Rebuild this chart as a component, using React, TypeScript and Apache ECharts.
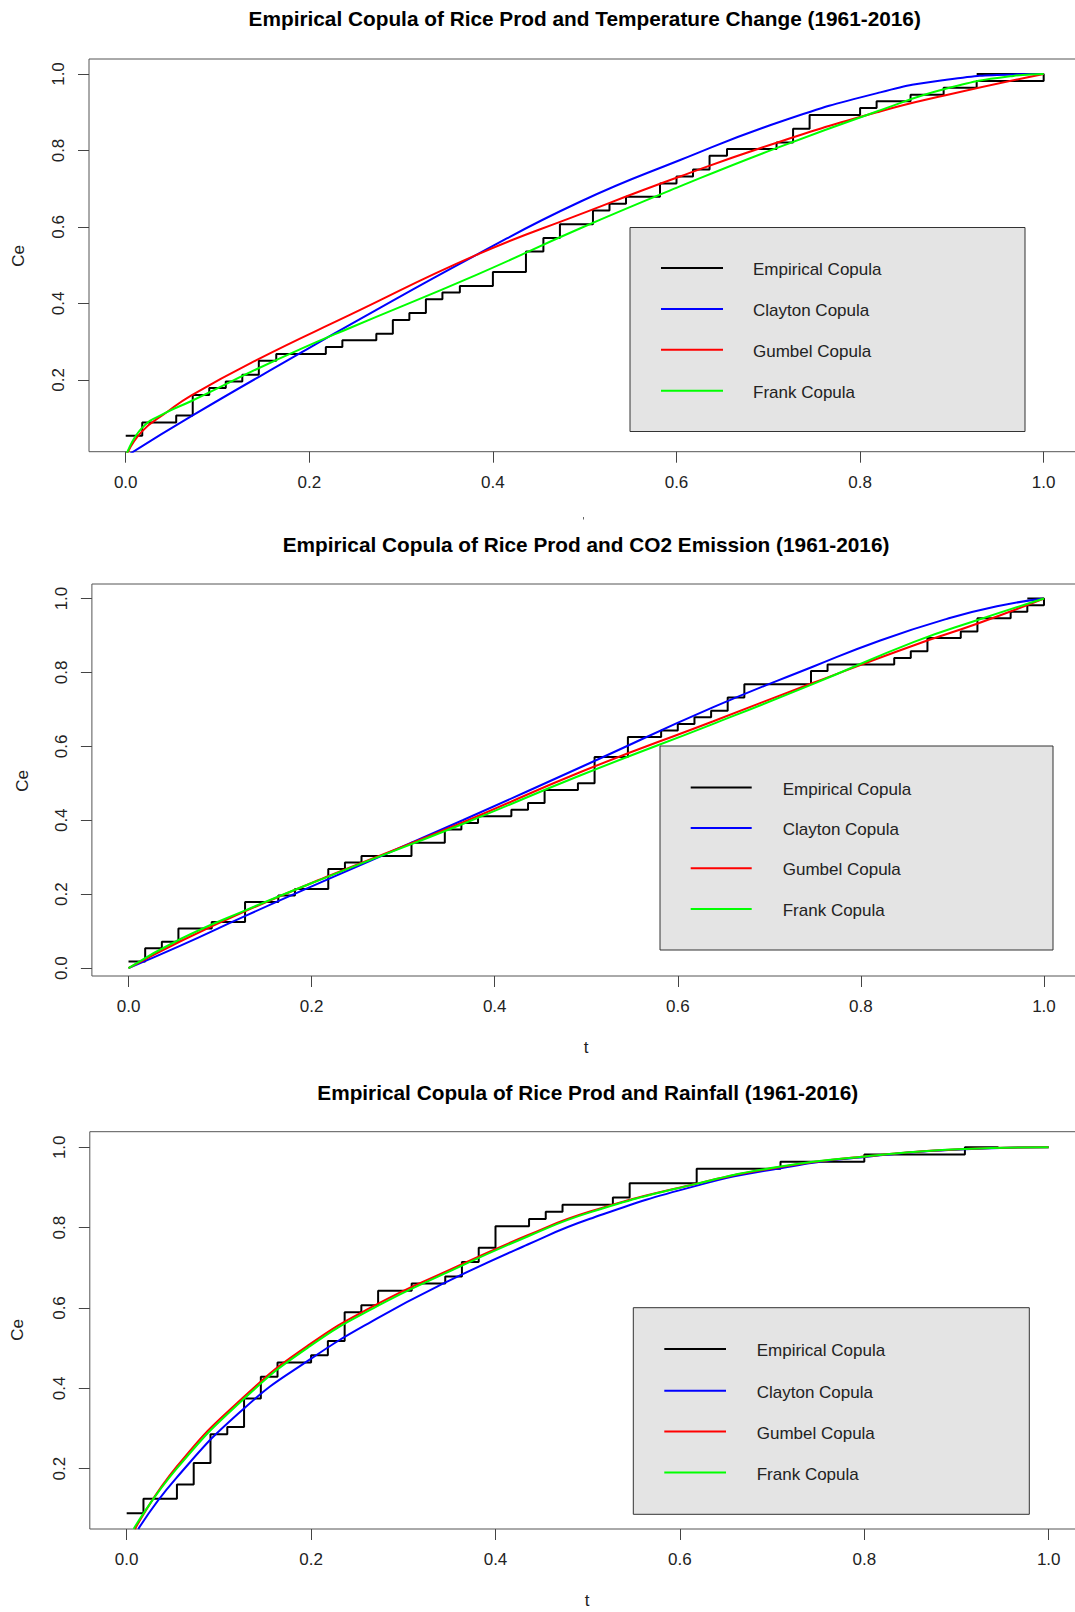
import React, { useEffect, useRef } from "react";
import * as echarts from "echarts";

// ---------- DATA ----------
const TITLES = [
  "Empirical Copula of Rice Prod and Temperature Change (1961-2016)",
  "Empirical Copula of Rice Prod and CO2 Emission (1961-2016)",
  "Empirical Copula of Rice Prod and Rainfall (1961-2016)",
];
const LEGEND_NAMES = ["Empirical Copula", "Clayton Copula", "Gumbel Copula", "Frank Copula"];
const SERIES_COLORS = ["#000000", "#0000FF", "#FF0000", "#00FF00"];
const X_TICKS = [0, 0.2, 0.4, 0.6, 0.8, 1.0];
const Y_TICKS_1 = [0.2, 0.4, 0.6, 0.8, 1.0];
const Y_TICKS_2 = [0, 0.2, 0.4, 0.6, 0.8, 1.0];
const Y_TICKS_3 = [0.2, 0.4, 0.6, 0.8, 1.0];

// Panel 1: Temperature change — empirical step function (t, Ce)
const TEMP_STEP_T = [0, 0.018, 0.055, 0.073, 0.091, 0.109, 0.127, 0.145, 0.164, 0.218, 0.236, 0.273, 0.291, 0.309, 0.327, 0.345, 0.364, 0.4, 0.436, 0.455, 0.473, 0.509, 0.527, 0.545, 0.582, 0.6, 0.618, 0.636, 0.655, 0.709, 0.727, 0.745, 0.8, 0.818, 0.855, 0.891, 0.927, 1.0, 0.927];
const TEMP_STEP_C = [0.054, 0.089, 0.107, 0.161, 0.179, 0.196, 0.214, 0.25, 0.268, 0.286, 0.304, 0.321, 0.357, 0.375, 0.411, 0.429, 0.446, 0.482, 0.536, 0.571, 0.607, 0.643, 0.661, 0.679, 0.714, 0.732, 0.75, 0.786, 0.804, 0.821, 0.857, 0.893, 0.911, 0.929, 0.946, 0.964, 0.982, 1.0, 1.0];
const TEMP_CLAYTON = [[0, 0], [0.072, 0.106], [0.19, 0.27], [0.244, 0.344], [0.382, 0.527], [0.495, 0.666], [0.604, 0.775], [0.713, 0.875], [0.822, 0.952], [0.894, 0.985], [0.967, 0.999], [1, 1]];
const TEMP_GUMBEL = [[0, 0], [0.0175, 0.065], [0.0443, 0.115], [0.0716, 0.16], [0.1424, 0.252], [0.2441, 0.37], [0.3821, 0.527], [0.4947, 0.633], [0.6037, 0.732], [0.7125, 0.823], [0.8216, 0.902], [0.8943, 0.945], [1, 1]];
const TEMP_FRANK = [[0, 0], [0.0175, 0.074], [0.0443, 0.115], [0.0716, 0.145], [0.1424, 0.228], [0.1896, 0.28], [0.2441, 0.336], [0.3821, 0.475], [0.4947, 0.596], [0.6037, 0.706], [0.7052, 0.803], [0.8216, 0.905], [0.8943, 0.962], [0.9669, 0.995], [1, 1]];

// Panel 2: CO2 emission
const CO2_STEP_T = [0, 0.0182, 0.0364, 0.0545, 0.0909, 0.1273, 0.1636, 0.1818, 0.2182, 0.2364, 0.2545, 0.3091, 0.3455, 0.3636, 0.3818, 0.4182, 0.4364, 0.4545, 0.4909, 0.5091, 0.5455, 0.5818, 0.6, 0.6182, 0.6364, 0.6545, 0.6727, 0.7455, 0.7636, 0.8364, 0.8545, 0.8727, 0.9091, 0.9273, 0.9636, 0.9818, 1.0, 0.9818];
const CO2_STEP_C = [0.0179, 0.0536, 0.0714, 0.1071, 0.125, 0.1786, 0.1964, 0.2143, 0.2679, 0.2857, 0.3036, 0.3393, 0.375, 0.3929, 0.4107, 0.4286, 0.4464, 0.4821, 0.5, 0.5714, 0.625, 0.6429, 0.6607, 0.6786, 0.6964, 0.7321, 0.7679, 0.8036, 0.8214, 0.8393, 0.8571, 0.8929, 0.9107, 0.9464, 0.9643, 0.9821, 1.0, 1.0];
const CO2_CLAYTON = [[0, 0], [0.0562, 0.06], [0.1283, 0.142], [0.2194, 0.242], [0.365, 0.4], [0.5041, 0.555], [0.6388, 0.706], [0.7481, 0.816], [0.8211, 0.8865], [0.894, 0.945], [0.9486, 0.979], [1, 1]];
const CO2_GUMBEL = [[0, 0], [0.0562, 0.072], [0.1283, 0.155], [0.2194, 0.25], [0.365, 0.394], [0.4932, 0.53], [0.6388, 0.668], [0.7481, 0.772], [0.8574, 0.873], [0.9284, 0.933], [1, 1]];
const CO2_FRANK = [[0, 0], [0.0562, 0.078], [0.1283, 0.157], [0.2194, 0.249], [0.365, 0.39], [0.4932, 0.521], [0.6388, 0.661], [0.7481, 0.769], [0.8574, 0.882], [0.9284, 0.9425], [1, 1]];

// Panel 3: Rainfall
const RAIN_STEP_T = [0, 0.0182, 0.0545, 0.0727, 0.0909, 0.1091, 0.1273, 0.1455, 0.1636, 0.2, 0.2182, 0.2364, 0.2545, 0.2727, 0.3091, 0.3455, 0.3636, 0.3818, 0.4, 0.4364, 0.4545, 0.4727, 0.5273, 0.5455, 0.6182, 0.7091, 0.8, 0.9091, 0.9455];
const RAIN_STEP_C = [0.0893, 0.125, 0.1607, 0.2143, 0.2857, 0.3036, 0.375, 0.4286, 0.4643, 0.4821, 0.5179, 0.5893, 0.6071, 0.6429, 0.6607, 0.6786, 0.7143, 0.75, 0.8036, 0.8214, 0.8393, 0.8571, 0.875, 0.9107, 0.9464, 0.9643, 0.9821, 1.0, 1.0];
const RAIN_CLAYTON = [[0.0126, 0.05], [0.0542, 0.178], [0.1272, 0.35], [0.1988, 0.472], [0.2722, 0.575], [0.3453, 0.663], [0.4349, 0.758], [0.5025, 0.822], [0.6175, 0.904], [0.7093, 0.948], [0.8005, 0.976], [0.9092, 0.995], [1, 1]];
const RAIN_GUMBEL = [[0.009, 0.05], [0.0542, 0.205], [0.1272, 0.379], [0.1988, 0.51], [0.2722, 0.61], [0.3453, 0.69], [0.4349, 0.781], [0.5025, 0.84], [0.6175, 0.909], [0.7093, 0.951], [0.8005, 0.977], [0.9092, 0.996], [1, 1]];
const RAIN_FRANK = [[0.0075, 0.05], [0.0542, 0.2], [0.1272, 0.374], [0.1988, 0.505], [0.2722, 0.605], [0.3453, 0.686], [0.4349, 0.778], [0.5025, 0.838], [0.6175, 0.909], [0.7093, 0.952], [0.8005, 0.977], [0.9092, 0.996], [1, 1]];

// ---------- LAYOUT ----------
const FONT = "'Liberation Sans', Arial, sans-serif";
const PANELS = [
  { grid: { left: 89, top: 59, width: 991.4, height: 392.7 }, yMin: 0.0125, yMax: 1.0392, yTicks: Y_TICKS_1,
    title: { x: 584.7, y: 18.5 }, ce: { x: 18.5, y: 256 }, t: null,
    leg: { x: 630, y: 227.5, w: 395, h: 204, lx1: 661, lx2: 723, tx: 753, ys: [268, 309, 349.7, 390.7] } },
  { grid: { left: 91.9, top: 584, width: 988.7, height: 392 }, yMin: -0.0214, yMax: 1.0393, yTicks: Y_TICKS_2,
    title: { x: 586, y: 544 }, ce: { x: 22.6, y: 781 }, t: { x: 586, y: 1047 },
    leg: { x: 660, y: 746, w: 393, h: 204, lx1: 690.7, lx2: 751.7, tx: 782.7, ys: [787.5, 828, 868.3, 909] } },
  { grid: { left: 89.8, top: 1131.7, width: 995.8, height: 397.3 }, yMin: 0.0499, yMax: 1.0388, yTicks: Y_TICKS_3,
    title: { x: 587.7, y: 1092 }, ce: { x: 17.5, y: 1330 }, t: { x: 587, y: 1600 },
    leg: { x: 633.3, y: 1307.7, w: 396, h: 206.6, lx1: 664.3, lx2: 726, tx: 756.7, ys: [1349, 1390.8, 1431.5, 1472.5] } },
];
const LEGEND_TEXT_DY = 1.5;

const STEPS = [
  [TEMP_STEP_T, TEMP_STEP_C],
  [CO2_STEP_T, CO2_STEP_C],
  [RAIN_STEP_T, RAIN_STEP_C],
];
const CURVES = [
  [TEMP_CLAYTON, TEMP_GUMBEL, TEMP_FRANK],
  [CO2_CLAYTON, CO2_GUMBEL, CO2_FRANK],
  [RAIN_CLAYTON, RAIN_GUMBEL, RAIN_FRANK],
];

function buildOption() {
  const grid: any[] = [];
  const xAxis: any[] = [];
  const yAxis: any[] = [];
  const series: any[] = [];
  const graphic: any[] = [];

  PANELS.forEach((p, i) => {
    grid.push({
      ...p.grid, show: true, borderColor: "#555", borderWidth: 1, backgroundColor: "transparent",
      containLabel: false, outerBoundsMode: "none",
    });
    xAxis.push({
      gridIndex: i, type: "value", min: -0.04, max: 1.04, position: "bottom",
      axisLine: { show: false, onZero: false }, splitLine: { show: false },
      axisTick: { show: true, customValues: X_TICKS, length: 11, inside: false, lineStyle: { color: "#444", width: 1 } },
      axisLabel: { customValues: X_TICKS, formatter: (v: number) => v.toFixed(1), margin: 22, fontSize: 17, color: "#222", fontFamily: FONT },
    });
    yAxis.push({
      gridIndex: i, type: "value", min: p.yMin, max: p.yMax, position: "left",
      axisLine: { show: false, onZero: false }, splitLine: { show: false },
      axisTick: { show: true, customValues: p.yTicks, length: 11, inside: false, lineStyle: { color: "#444", width: 1 } },
      axisLabel: { customValues: p.yTicks, formatter: (v: number) => v.toFixed(1), margin: 22, rotate: 90, fontSize: 17, color: "#222", fontFamily: FONT },
    });

    const [st, sc] = STEPS[i];
    series.push({
      type: "line", name: LEGEND_NAMES[0], xAxisIndex: i, yAxisIndex: i,
      data: st.map((t, k) => [t, sc[k]]), step: "end", symbol: "none",
      lineStyle: { color: SERIES_COLORS[0], width: 2 }, silent: true, clip: true,
    });
    CURVES[i].forEach((c, j) => {
      series.push({
        type: "line", name: LEGEND_NAMES[j + 1], xAxisIndex: i, yAxisIndex: i,
        data: c, smooth: 0.5, symbol: "none",
        lineStyle: { color: SERIES_COLORS[j + 1], width: 2 }, silent: true, clip: true,
      });
    });

    graphic.push({
      type: "text", x: p.title.x, y: p.title.y, z: 100,
      style: { text: TITLES[i], align: "center", verticalAlign: "middle", fontSize: 20.8, fontWeight: "bold", fontFamily: FONT, fill: "#000" },
    });
    graphic.push({
      type: "text", x: p.ce.x, y: p.ce.y, rotation: Math.PI / 2, z: 100,
      style: { text: "Ce", align: "center", verticalAlign: "middle", fontSize: 17, fontFamily: FONT, fill: "#222" },
    });
    if (p.t) {
      graphic.push({
        type: "text", x: p.t.x, y: p.t.y, z: 100,
        style: { text: "t", align: "center", verticalAlign: "middle", fontSize: 17, fontFamily: FONT, fill: "#222" },
      });
    }
    const L = p.leg;
    graphic.push({
      type: "rect", z: 100, shape: { x: L.x, y: L.y, width: L.w, height: L.h },
      style: { fill: "#E4E4E4", stroke: "#333", lineWidth: 1 },
    });
    LEGEND_NAMES.forEach((name, j) => {
      graphic.push({
        type: "line", z: 101, shape: { x1: L.lx1, y1: L.ys[j], x2: L.lx2, y2: L.ys[j] },
        style: { stroke: SERIES_COLORS[j], lineWidth: 2 },
      });
      graphic.push({
        type: "text", z: 101, x: L.tx, y: L.ys[j] + LEGEND_TEXT_DY,
        style: { text: name, align: "left", verticalAlign: "middle", fontSize: 17, fontFamily: FONT, fill: "#222" },
      });
    });
  });

  // tiny stray mark under the first panel
  graphic.push({ type: "rect", z: 100, shape: { x: 583, y: 517, width: 1, height: 2.5 }, style: { fill: "#666" } });

  return { animation: false, backgroundColor: "#fff", grid, xAxis, yAxis, series, graphic };
}

export default function App() {
  const ref = useRef<HTMLDivElement>(null);
  useEffect(() => {
    if (!ref.current) return;
    const chart = echarts.init(ref.current, undefined, { renderer: "svg" });
    chart.setOption(buildOption() as any);
    return () => chart.dispose();
  }, []);
  return (
    <div ref={ref} style={{ position: "absolute", left: 0, top: 0, width: 1075, height: 1612, background: "#fff" }} />
  );
}
